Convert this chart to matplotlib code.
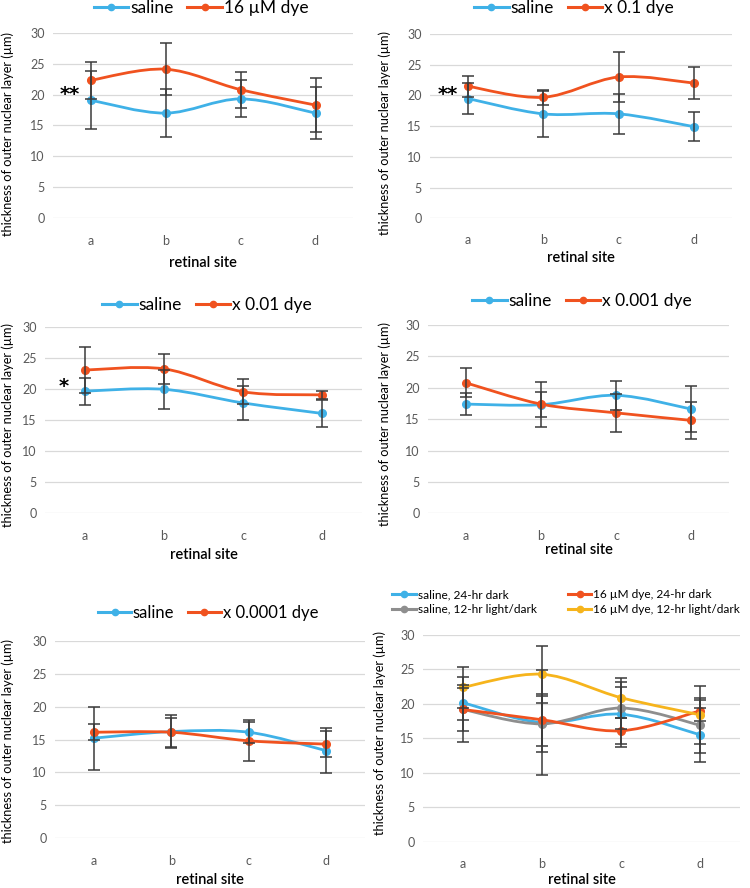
import matplotlib
matplotlib.use("Agg")
import matplotlib.pyplot as plt
from matplotlib.path import Path
from matplotlib.patches import PathPatch
from matplotlib.lines import Line2D

plt.rcParams['font.family'] = ['Lato', 'DejaVu Sans']

sites = ['a', 'b', 'c', 'd']

# panel 1: saline vs 16 uM dye
p1_saline = [19.1, 17.0, 19.3, 17.0]
p1_saline_err = [4.7, 3.9, 3.0, 4.2]
p1_dye = [22.3, 24.1, 20.8, 18.3]
p1_dye_err = [3.0, 4.2, 2.9, 4.3]

# panel 2: x 0.1 dye
p2_saline = [19.5, 17.0, 17.0, 14.9]
p2_saline_err = [2.5, 3.7, 3.2, 2.35]
p2_dye = [21.5, 19.7, 23.0, 22.0]
p2_dye_err = [1.7, 1.2, 4.1, 2.6]

# panel 3: x 0.01 dye
p3_saline = [19.7, 20.0, 17.8, 16.1]
p3_saline_err = [2.2, 3.1, 2.7, 2.2]
p3_dye = [23.1, 23.3, 19.6, 19.1]
p3_dye_err = [3.7, 2.4, 2.0, 0.7]

# panel 4: x 0.001 dye
p4_saline = [17.4, 17.3, 18.8, 16.6]
p4_saline_err = [1.8, 3.6, 2.35, 3.7]
p4_dye = [20.8, 17.4, 16.0, 14.8]
p4_dye_err = [2.3, 2.0, 3.0, 2.9]

# panel 5: x 0.0001 dye
p5_saline = [15.2, 16.2, 16.1, 13.3]
p5_saline_err = [4.8, 2.5, 1.6, 3.4]
p5_dye = [16.1, 16.1, 14.8, 14.3]
p5_dye_err = [1.2, 2.2, 3.1, 2.0]

# panel 6: light conditions
p6_saline_dark = [20.2, 17.3, 18.5, 15.5]
p6_saline_dark_err = [2.5, 7.6, 4.7, 3.9]
p6_dye_dark = [19.2, 17.7, 16.1, 19.0]
p6_dye_dark_err = [3.1, 3.8, 1.9, 1.5]
p6_saline_ld = [19.2, 17.1, 19.4, 16.9]
p6_saline_ld_err = [4.7, 4.1, 3.0, 4.0]
p6_dye_ld = [22.4, 24.3, 20.9, 18.4]
p6_dye_ld_err = [3.0, 4.1, 2.9, 4.2]

BLUE = "#3FB1E7"
RED = "#F0521F"
GREY = "#8E8E8E"
YELLOW = "#F6B41C"
ERR = "#3A3A3A"

W, H = 750, 888
fig = plt.figure(figsize=(W / 100, H / 100), dpi=100)


def box(x0, y0, x1, y1):
    return [x0 / W, 1 - y1 / H, (x1 - x0) / W, (y1 - y0) / H]


def smooth_path(xs, ys):
    # excel-style smoothed line (cubic bezier through the points)
    pts = list(zip(xs, ys))
    verts = [pts[0]]
    codes = [Path.MOVETO]
    n = len(pts)
    for i in range(n - 1):
        p0 = pts[i - 1] if i > 0 else pts[i]
        p1 = pts[i]
        p2 = pts[i + 1]
        p3 = pts[i + 2] if i + 2 < n else pts[i + 1]
        c1 = (p1[0] + (p2[0] - p0[0]) / 6, p1[1] + (p2[1] - p0[1]) / 6)
        c2 = (p2[0] - (p3[0] - p1[0]) / 6, p2[1] - (p3[1] - p1[1]) / 6)
        verts += [c1, c2, p2]
        codes += [Path.CURVE4] * 3
    return Path(verts, codes)


def panel(rect, series, ylab_xy, xlab_y, tick_pad):
    ax = fig.add_axes(box(*rect))
    x = list(range(len(sites)))
    for vals, errs, col, lab in series:
        ax.add_patch(PathPatch(smooth_path(x, vals), fill=False, edgecolor=col,
                               lw=2.0, zorder=2, capstyle='round'))
        ax.plot(x, vals, 'o', color=col, ms=5.5, zorder=3)
        ax.errorbar(x, vals, yerr=errs, fmt='none', ecolor=ERR, elinewidth=1.1,
                    capsize=4, capthick=1.1, zorder=4)
    ax.set_xlim(-0.5, 3.5)
    ax.set_ylim(0, 30)
    ax.set_yticks([0, 5, 10, 15, 20, 25, 30])
    ax.set_xticks(x)
    ax.set_xticklabels(sites)
    ax.tick_params(length=0, labelsize=9, labelcolor="#595959")
    ax.tick_params(axis='x', pad=tick_pad)
    ax.tick_params(axis='y', pad=6)
    ax.grid(axis='y', color="#D9D9D9", lw=0.9)
    ax.set_axisbelow(True)
    for s in ax.spines.values():
        s.set_visible(False)
    ax.patch.set_alpha(0)
    fig.text(ylab_xy[0] / W, 1 - ylab_xy[1] / H, "thickness of outer nuclear layer (µm)",
             rotation=90, ha='center', va='center', fontsize=9.2)
    fig.text((rect[0] + rect[2]) / 2 / W, 1 - xlab_y / H, "retinal site",
             ha='center', va='center', fontsize=10.5, fontweight='semibold')
    return ax


def legend(ax, series, xy, size, ncol, colsp):
    handles = [Line2D([], [], color=col, lw=2.2, marker='o', ms=4.5) for _, _, col, _ in series]
    labels = [lab for _, _, _, lab in series]
    ax.legend(handles, labels, loc='center', bbox_to_anchor=(xy[0] / W, 1 - xy[1] / H),
              bbox_transform=fig.transFigure, ncol=ncol, frameon=False, fontsize=size,
              handlelength=2.0, handletextpad=0.1, columnspacing=colsp,
              borderpad=0, labelspacing=0.3)


def stars(ax, xval, yval, txt):
    ax.text(xval, yval, txt, fontsize=14, fontweight='bold', ha='center', va='center',
            family='DejaVu Sans')


s1 = [(p1_saline, p1_saline_err, BLUE, "saline"), (p1_dye, p1_dye_err, RED, "16 µM dye")]
ax1 = panel((53, 32.7, 353, 218.3), s1, (8, 134), 263, 12)
legend(ax1, s1, (201, 8), 12.5, 2, 0.8)
stars(ax1, -0.27, 20.0, "**")

s2 = [(p2_saline, p2_saline_err, BLUE, "saline"), (p2_dye, p2_dye_err, RED, "x 0.1 dye")]
ax2 = panel((430, 34, 732, 218.3), s2, (385, 133), 258, 11)
legend(ax2, s2, (574, 8), 12.5, 2, 0.8)
stars(ax2, -0.27, 20.1, "**")

s3 = [(p3_saline, p3_saline_err, BLUE, "saline"), (p3_dye, p3_dye_err, RED, "x 0.01 dye")]
ax3 = panel((45, 327.3, 362, 513.3), s3, (8, 425), 555, 12)
legend(ax3, s3, (207, 305), 12.5, 2, 0.8)
stars(ax3, -0.27, 20.5, "*")

s4 = [(p4_saline, p4_saline_err, BLUE, "saline"), (p4_dye, p4_dye_err, RED, "x 0.001 dye")]
ax4 = panel((428, 325, 729, 513.3), s4, (385, 424), 550, 12)
legend(ax4, s4, (582, 301), 12.5, 2, 0.8)

s5 = [(p5_saline, p5_saline_err, BLUE, "saline"), (p5_dye, p5_dye_err, RED, "x 0.0001 dye")]
ax5 = panel((55, 640.7, 365, 838.3), s5, (8, 741), 880, 12)
legend(ax5, s5, (208, 613), 12, 2, 0.8)

s6 = [(p6_saline_dark, p6_saline_dark_err, BLUE, "saline, 24-hr dark"),
      (p6_saline_ld, p6_saline_ld_err, GREY, "saline, 12-hr light/dark"),
      (p6_dye_dark, p6_dye_dark_err, RED, "16 µM dye, 24-hr dark"),
      (p6_dye_ld, p6_dye_ld_err, YELLOW, "16 µM dye, 12-hr light/dark")]
ax6 = panel((423, 635, 740, 841.7), s6, (380, 733), 880, 12)
legend(ax6, s6, (566, 602), 8.6, 2, 2.6)

fig.savefig("out.png", dpi=100)
